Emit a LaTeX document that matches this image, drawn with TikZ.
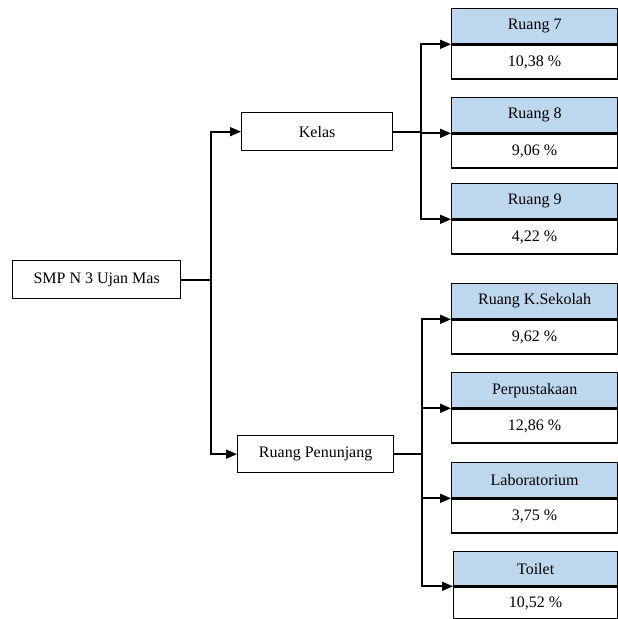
\documentclass[tikz,border=0pt]{standalone}
\usepackage{fontspec}
\setmainfont{Liberation Serif}
\usetikzlibrary{arrows.meta,positioning}

\definecolor{headblue}{RGB}{189,215,238}

\begin{document}
\begin{tikzpicture}[
    x=1pt, y=-1pt,
    font=\fontsize{16}{19}\selectfont,
    box/.style={rectangle, draw, line width=1.3pt, inner sep=0pt, anchor=north west, align=center},
    head/.style={box, fill=headblue, minimum width=166pt, minimum height=35pt},
    value/.style={box, fill=white, minimum width=166pt, minimum height=34pt},
    arrow/.style={-{Triangle[length=11pt,width=9pt]}, line width=1.8pt},
    link/.style={line width=1.8pt}
]
\useasboundingbox (0,0) rectangle (618,619);

% Main boxes
\node[box, minimum width=168pt, minimum height=38pt] (smp) at (12,260) {SMP N 3 Ujan Mas};
\node[box, minimum width=151pt, minimum height=38pt] (kelas) at (241,112) {Kelas};
\node[box, minimum width=156pt, minimum height=37pt] (penunjang) at (237,435) {Ruang Penunjang};

% Ruang kelas
\node[head] (r7) at (451,8) {Ruang 7};
\node[value, below=0pt of r7.south west, anchor=north west] (v7) {10,38 \%};
\node[head] (r8) at (451,97) {Ruang 8};
\node[value, below=0pt of r8.south west, anchor=north west] (v8) {9,06 \%};
\node[head] (r9) at (451,183) {Ruang 9};
\node[value, below=0pt of r9.south west, anchor=north west] (v9) {4,22 \%};

% Ruang penunjang
\node[head] (rks) at (451,283) {Ruang K.Sekolah};
\node[value, below=0pt of rks.south west, anchor=north west] (vks) {9,62 \%};
\node[head] (perpus) at (451,372) {Perpustakaan};
\node[value, below=0pt of perpus.south west, anchor=north west] (vperpus) {12,86 \%};
\node[head] (lab) at (451,462) {Laboratorium};
\node[value, below=0pt of lab.south west, anchor=north west] (vlab) {3,75 \%};
\node[head, minimum width=164pt, minimum height=34pt] (toilet) at (453,551) {Toilet};
\node[value, minimum width=164pt, minimum height=32pt, below=0pt of toilet.south west, anchor=north west] (vtoilet) {10,52 \%};

% Arrows
\draw[link] (smp.east) -- ++(30,0) coordinate (jsmp);
\draw[arrow] (jsmp) |- (kelas.west);
\draw[arrow] (jsmp) |- (penunjang.west);

\draw[link] (kelas.east) -- ++(28,0) coordinate (jkelas);
\draw[arrow] (jkelas) |- (r7.south west);
\draw[arrow] (jkelas) |- (r8.south west);
\draw[arrow] (jkelas) |- (r9.south west);

\draw[link] (penunjang.east) -- ++(28,0) coordinate (jpen);
\draw[arrow] (jpen) |- (rks.south west);
\draw[arrow] (jpen) |- (perpus.south west);
\draw[arrow] (jpen) |- (lab.south west);
\draw[arrow] (jpen) |- (toilet.south west);

\end{tikzpicture}
\end{document}
